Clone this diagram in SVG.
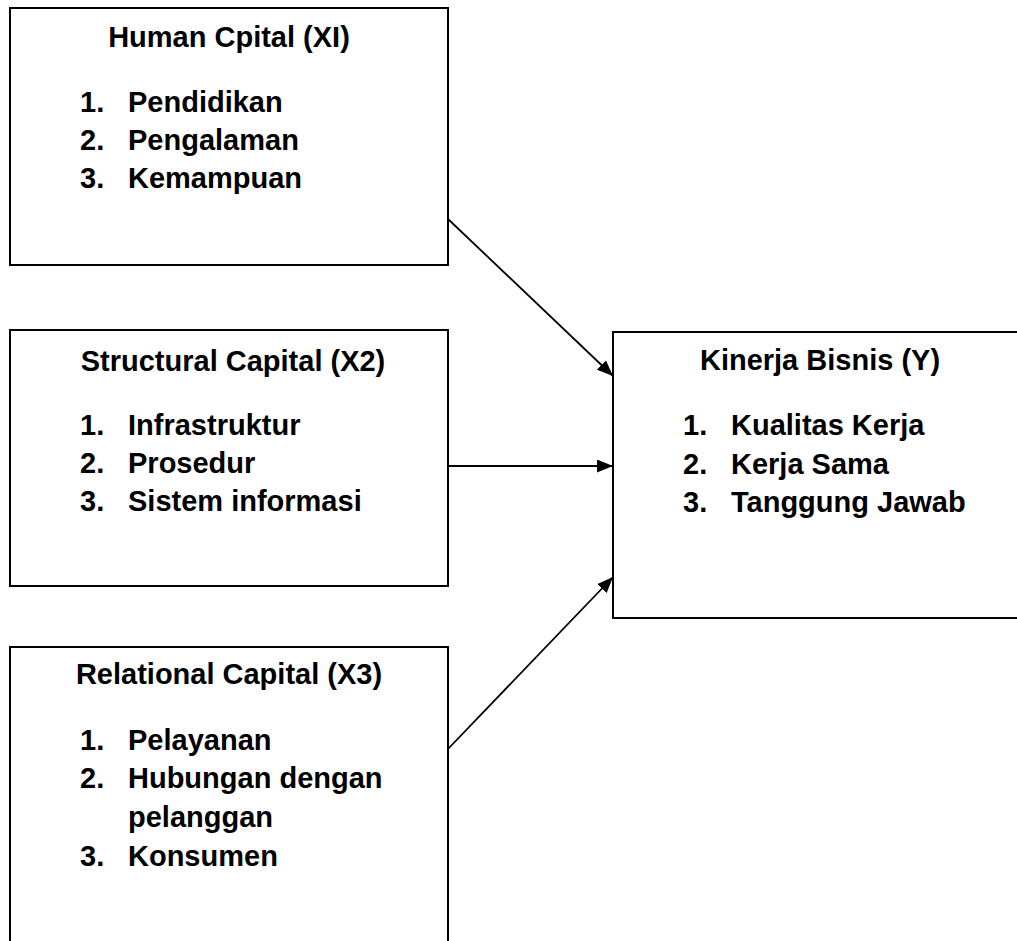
<svg xmlns="http://www.w3.org/2000/svg" width="1017" height="941" viewBox="0 0 1017 941">
<style>
.box{fill:#fff;stroke:#000;stroke-width:2}
.t{font-family:"Liberation Sans",Arial,sans-serif;font-weight:bold;font-size:29px;fill:#000}
.c{text-anchor:middle}
.edge{stroke:#000;stroke-width:1.8;fill:none}
</style>
<defs>
<marker id="ah" viewBox="0 0 16 13" refX="16" refY="6.5" markerWidth="16" markerHeight="13" markerUnits="userSpaceOnUse" orient="auto">
<path d="M0,0 L16,6.5 L0,13 Z" fill="#000"/>
</marker>
</defs>
<rect width="1017" height="941" fill="#fff"/>
<g id="x1">
<rect class="box" x="10" y="8" width="438" height="257"/>
<text class="t c" x="229" y="47">Human Cpital (XI)</text>
<text class="t" x="80" y="112">1.</text><text class="t" x="128" y="112">Pendidikan</text>
<text class="t" x="80" y="150">2.</text><text class="t" x="128" y="150">Pengalaman</text>
<text class="t" x="80" y="188">3.</text><text class="t" x="128" y="188">Kemampuan</text>
</g>
<g id="x2">
<rect class="box" x="10" y="330" width="438" height="256"/>
<text class="t c" x="233" y="371">Structural Capital (X2)</text>
<text class="t" x="80" y="435">1.</text><text class="t" x="128" y="435">Infrastruktur</text>
<text class="t" x="80" y="473">2.</text><text class="t" x="128" y="473">Prosedur</text>
<text class="t" x="80" y="511">3.</text><text class="t" x="128" y="511">Sistem informasi</text>
</g>
<g id="x3">
<rect class="box" x="10" y="647" width="438" height="320"/>
<text class="t c" x="229" y="684">Relational Capital (X3)</text>
<text class="t" x="80" y="750">1.</text><text class="t" x="128" y="750">Pelayanan</text>
<text class="t" x="80" y="788">2.</text><text class="t" x="128" y="788">Hubungan dengan</text>
<text class="t" x="128" y="827">pelanggan</text>
<text class="t" x="80" y="866">3.</text><text class="t" x="128" y="866">Konsumen</text>
</g>
<g id="y">
<rect class="box" x="613" y="332" width="420" height="286"/>
<text class="t c" x="820" y="370">Kinerja Bisnis (Y)</text>
<text class="t" x="683" y="435">1.</text><text class="t" x="731" y="435">Kualitas Kerja</text>
<text class="t" x="683" y="474">2.</text><text class="t" x="731" y="474">Kerja Sama</text>
<text class="t" x="683" y="512">3.</text><text class="t" x="731" y="512">Tanggung Jawab</text>
</g>
<g id="connectors">
<line class="edge" x1="448" y1="219" x2="613" y2="376" marker-end="url(#ah)"/>
<line class="edge" x1="448" y1="466" x2="613" y2="466" marker-end="url(#ah)"/>
<line class="edge" x1="448" y1="749" x2="613" y2="577" marker-end="url(#ah)"/>
</g>
</svg>
